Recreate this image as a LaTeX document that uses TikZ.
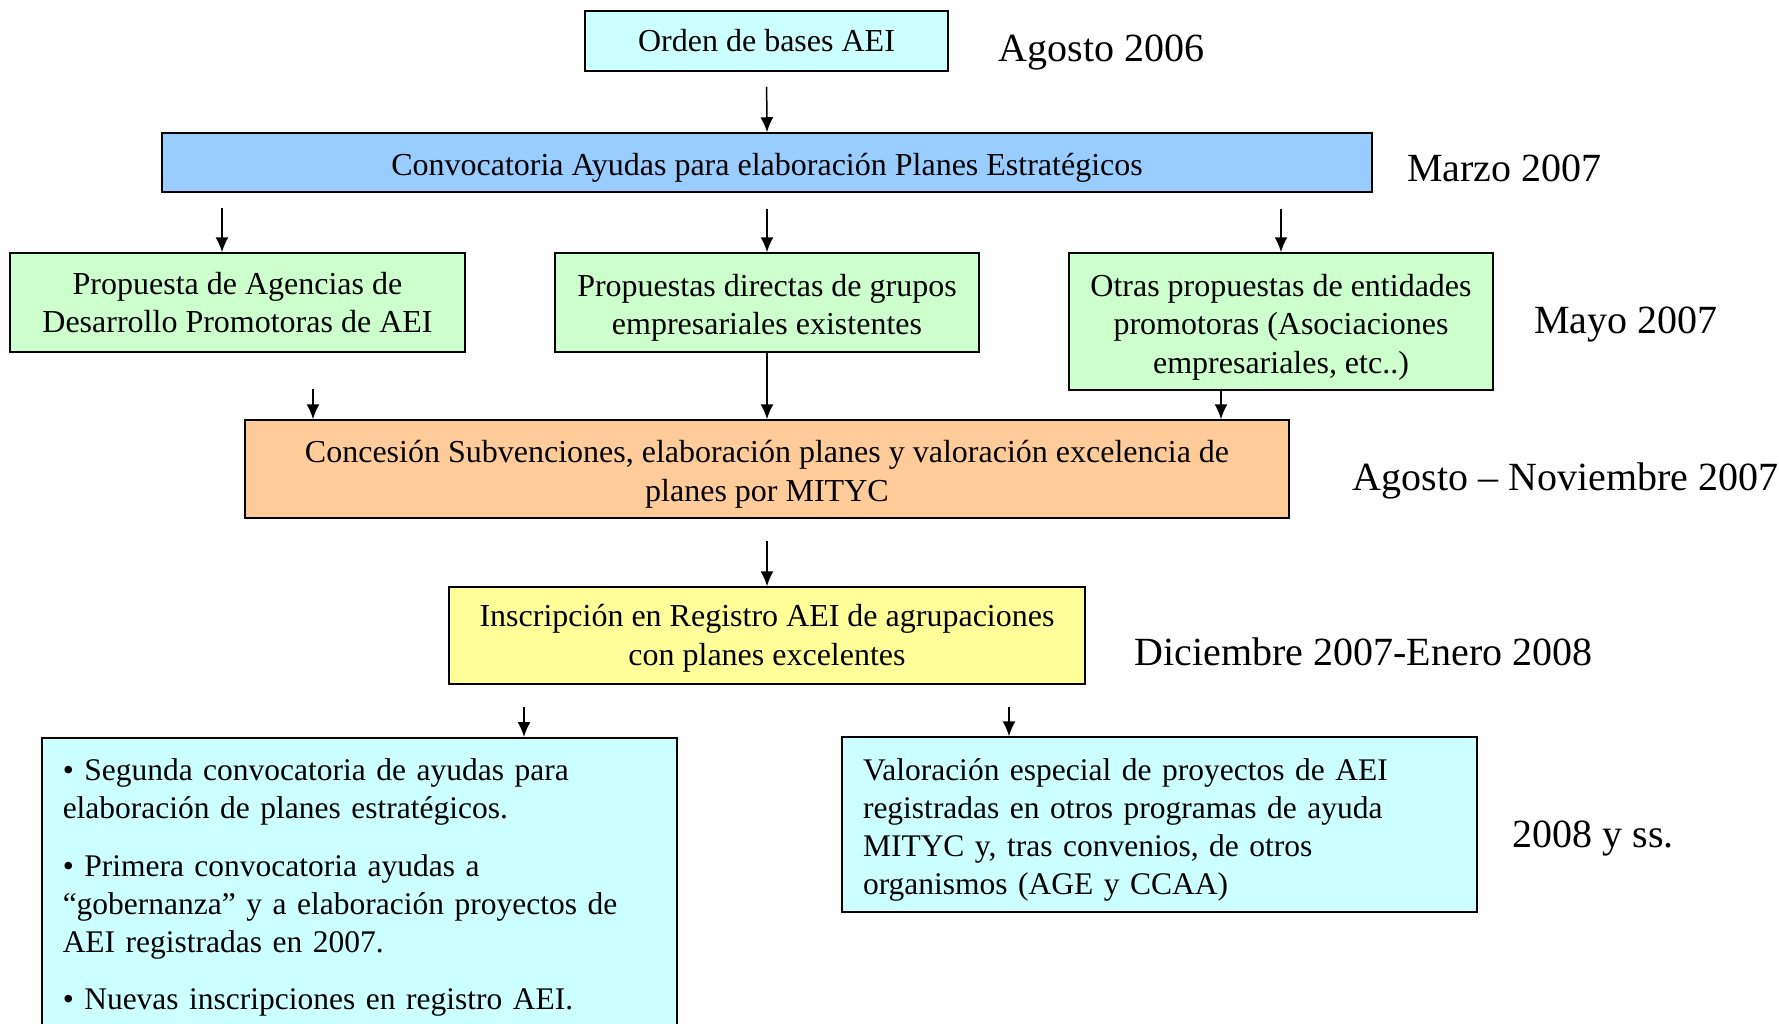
\documentclass[tikz,border=0pt]{standalone}
\usepackage{fontspec}
\setmainfont{Liberation Serif}
\usetikzlibrary{arrows.meta}

\definecolor{celeste}{HTML}{CCFFFF}
\definecolor{azul}{HTML}{99CCFF}
\definecolor{verde}{HTML}{CCFFCC}
\definecolor{naranja}{HTML}{FFCC99}
\definecolor{amarillo}{HTML}{FFFF99}

\newcommand{\letracaja}{\fontsize{32}{38.4}\selectfont}
\newcommand{\letrabaja}{\fontsize{31.5}{38.2}\selectfont}
\newcommand{\letrafecha}{\fontsize{40}{48}\selectfont}
\newcommand{\alto}[1][33pt]{\rule{0pt}{#1}}

\begin{document}
\begin{tikzpicture}[x=1pt, y=-1pt,
  caja/.style={draw, line width=1.5pt, inner sep=0pt, align=center, font=\letracaja},
  fecha/.style={anchor=base west, inner sep=0pt, font=\letrafecha},
  flecha/.style={-{Latex[length=15pt,width=13pt]}, line width=1.5pt}]

\useasboundingbox (0,0) rectangle (1779,1023);
\clip (0,0) rectangle (1779,1023);

% Cajas del proceso
\node[caja, fill=celeste, minimum width=363, minimum height=60] (orden) at (766.5,41) {Orden de bases AEI};
\node[caja, fill=azul, minimum width=1210, minimum height=59] (convoc) at (767,162.5) {\alto Convocatoria Ayudas para elaboración Planes Estratégicos};
\node[caja, fill=verde, minimum width=455, minimum height=99] (propA) at (237.5,302.5) {Propuesta de Agencias de\\Desarrollo Promotoras de AEI};
\node[caja, fill=verde, minimum width=424, minimum height=99] (propB) at (767,302.5) {\alto Propuestas directas de grupos\\empresariales existentes};
\node[caja, fill=verde, minimum width=424, minimum height=137] (propC) at (1281,321.5) {\alto Otras propuestas de entidades\\promotoras (Asociaciones\\empresariales, etc..)};
\node[caja, fill=naranja, minimum width=1044, minimum height=98] (conces) at (767,469) {\alto Concesión Subvenciones, elaboración planes y valoración excelencia de\\planes por MITYC};
\node[caja, fill=amarillo, minimum width=636, minimum height=97] (inscrip) at (767,635.5) {\alto[28pt]Inscripción en Registro AEI de agrupaciones\\con planes excelentes};
\node[caja, fill=celeste, anchor=north west, align=left, inner sep=21pt, text width=593, font=\letrabaja] (segunda) at (41,737) {• Segunda convocatoria de ayudas para\\elaboración de planes estratégicos.\\[19pt]• Primera convocatoria ayudas a\\“gobernanza” y a elaboración proyectos de\\AEI registradas en 2007.\\[19pt]• Nuevas inscripciones en registro AEI.\\[40pt]};
\node[caja, fill=celeste, align=left, inner xsep=21pt, inner ysep=4pt, text width=593, minimum height=175, font=\letrabaja] (valor) at (1159.5,824.5) {\alto Valoración especial de proyectos de AEI\\registradas en otros programas de ayuda\\MITYC y, tras convenios, de otros\\organismos (AGE y CCAA)};

% Fechas
\node[fecha] (f1) at (998.5,61.2) {Agosto 2006};
\node[fecha] (f2) at (1407,181.4) {Marzo 2007};
\node[fecha] (f3) at (1534,333.5) {Mayo 2007};
\node[fecha] (f4) at (1352.5,490) {Agosto – Noviembre 2007};
\node[fecha] (f5) at (1134.6,665.9) {Diciembre 2007-Enero 2008};
\node[fecha] (f6) at (1512.5,847.4) {2008 y ss.};

% Puntos de salida de las flechas
\coordinate (sA) at (222,208);
\coordinate (sC) at (313,389);
\coordinate (sS) at (524,707);
\coordinate (sV) at (1009,707);

% Flechas
\draw[flecha, shorten <=15pt] (orden.south) -- (convoc.north);
\draw[flecha] (sA) -- (sA |- propA.north);
\draw[flecha, shorten <=16pt] (convoc.south) -- (propB.north);
\draw[flecha, shorten <=16pt] (convoc.south -| propC.north) -- (propC.north);
\draw[flecha] (sC) -- (sC |- conces.north);
\draw[flecha] (propB.south) -- (conces.north);
\draw[flecha] ([xshift=-60pt]propC.south) -- ([xshift=-60pt]propC.south |- conces.north);
\draw[flecha, shorten <=22pt] (conces.south) -- (inscrip.north);
\draw[flecha] (sS) -- (sS |- segunda.north);
\draw[flecha] (sV) -- (sV |- valor.north);

\end{tikzpicture}
\end{document}
